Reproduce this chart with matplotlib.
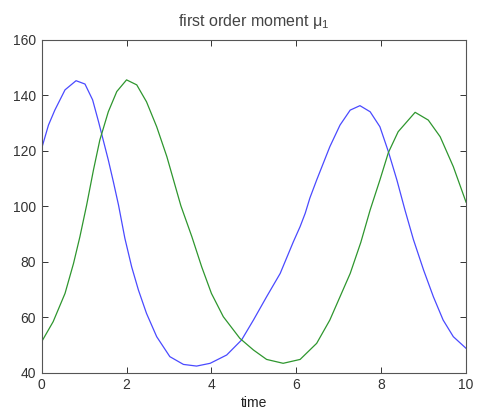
import matplotlib
matplotlib.use("Agg")
import matplotlib.pyplot as plt

# values
t_blue = [0, 0.16, 0.31, 0.55, 0.81, 1.02, 1.20, 1.34, 1.45, 1.57, 1.69, 1.81, 1.96, 2.12,
          2.28, 2.47, 2.71, 3.02, 3.34, 3.65, 3.97, 4.36, 4.71, 4.99, 5.30, 5.62, 5.93,
          6.09, 6.21, 6.32, 6.48, 6.79, 7.03, 7.27, 7.50, 7.74, 7.97, 8.17, 8.37, 8.56,
          8.76, 9.00, 9.23, 9.46, 9.70, 10.0]
blue = [120.9, 129.3, 134.7, 142.0, 145.3, 144.1, 138.4, 130.5, 123.9, 116.7, 108.8, 100.5,
        88.5, 78.2, 69.8, 61.4, 53.0, 45.8, 43.0, 42.4, 43.4, 46.4, 51.8, 59.0, 67.4, 75.8,
        87.2, 92.7, 97.5, 103.0, 109.5, 121.5, 129.3, 134.7, 136.3, 134.1, 128.7, 119.7,
        109.5, 98.7, 88.0, 77.0, 67.4, 59.0, 53.0, 48.8]

t_green = [0, 0.27, 0.55, 0.75, 0.90, 1.06, 1.22, 1.37, 1.57, 1.77, 2.00, 2.24, 2.47, 2.71,
           2.95, 3.28, 3.54, 3.77, 4.00, 4.28, 4.67, 4.99, 5.30, 5.69, 6.09, 6.48, 6.79,
           7.03, 7.27, 7.52, 7.74, 7.97, 8.17, 8.40, 8.80, 9.11, 9.39, 9.70, 10.0]
green = [51.2, 58.4, 68.6, 79.4, 89.0, 100.5, 113.1, 123.9, 134.1, 141.4, 145.6, 143.8,
         137.7, 128.7, 117.9, 100.2, 89.0, 78.2, 68.6, 60.2, 52.4, 48.2, 44.8, 43.4, 44.8,
         50.6, 59.0, 67.4, 75.8, 87.0, 98.7, 109.5, 119.4, 126.9, 133.9, 131.1, 125.1,
         114.3, 101.5]

plt.rcParams['font.family'] = ['Liberation Sans', 'DejaVu Sans']

fig = plt.figure(figsize=(4.78, 4.16), dpi=100)
ax = fig.add_axes([0.0872, 0.104, 0.8878, 0.80])

ax.plot(t_blue, blue, color='#4a4aff', lw=0.9)
ax.plot(t_green, green, color='#2e962e', lw=0.9)

ax.set_xlim(0, 10)
ax.set_ylim(40, 160)
ax.set_xticks(range(0, 11, 2))
ax.set_yticks(range(40, 161, 20))
ax.tick_params(direction='in', top=True, right=True, length=4, width=0.7,
               labelsize=10, colors='#333333', pad=4)
for s in ax.spines.values():
    s.set_color('#555555')
    s.set_linewidth(0.8)

ax.set_xlabel('time', fontsize=10, color='#222222', labelpad=3)
ax.set_title(r'first order moment $\mathregular{\mu_1}$', fontsize=11.5, color='#444444', pad=10)

fig.savefig('out.png', dpi=100)
